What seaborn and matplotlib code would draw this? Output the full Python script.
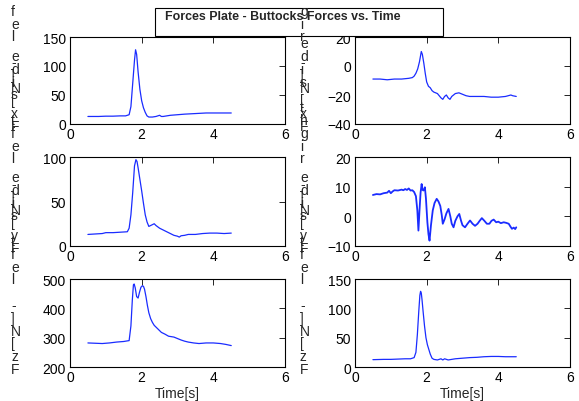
import matplotlib
matplotlib.use("Agg")
import matplotlib.pyplot as plt
from matplotlib.patches import Rectangle
import seaborn as sns
import pandas as pd

# ---------------- data ----------------
t_fx_left = [0.5, 0.8, 1.0, 1.2, 1.4, 1.55, 1.65, 1.7, 1.75, 1.8, 1.83, 1.86, 1.9, 1.95, 2.0, 2.05,
             2.1, 2.15, 2.2, 2.3, 2.4, 2.5, 2.55, 2.6, 2.7, 2.8, 3.0, 3.2, 3.5, 3.8, 4.0, 4.2, 4.5]
v_fx_left = [13, 13, 13.5, 13.5, 14, 14, 16, 30, 70, 110, 128, 120, 90, 60, 40, 28,
             20, 14, 12, 12, 13, 15, 13, 13, 14, 15, 16, 17, 18, 19, 19, 19, 19]

t_fx_right = [0.5, 0.7, 0.9, 1.1, 1.3, 1.5, 1.6, 1.65, 1.7, 1.75, 1.8, 1.85, 1.88, 1.92, 1.96, 2.0,
              2.05, 2.1, 2.15, 2.2, 2.3, 2.4, 2.45, 2.5, 2.55, 2.6, 2.65, 2.7, 2.8, 2.9, 3.0, 3.1,
              3.2, 3.4, 3.6, 3.8, 4.0, 4.2, 4.35, 4.4, 4.5]
v_fx_right = [-9, -9, -9.5, -9, -9, -8.5, -8, -7, -5, -2, 3, 10, 8, 2, -5, -11,
              -14, -15, -17, -18, -19, -22, -23, -21, -20, -22, -23, -21, -19, -18.5, -19.5, -20.5,
              -21, -21, -21, -21.5, -21.5, -21, -20, -20.5, -21]

t_fy_left = [0.5, 0.7, 0.9, 1.0, 1.2, 1.4, 1.6, 1.65, 1.7, 1.75, 1.8, 1.84, 1.87, 1.9, 1.95, 2.0,
             2.05, 2.1, 2.15, 2.2, 2.25, 2.3, 2.35, 2.4, 2.5, 2.6, 2.7, 2.8, 2.9, 3.0, 3.05, 3.1,
             3.2, 3.3, 3.5, 3.7, 3.9, 4.1, 4.3, 4.5]
v_fy_left = [13, 13.5, 14, 15, 15, 15.5, 16, 20, 35, 60, 90, 97, 95, 88, 75, 62,
             48, 35, 27, 22, 23, 24, 25, 23, 20, 18, 16, 14, 12, 11, 10, 11.5,
             12, 13, 13, 14, 14.5, 14.5, 14, 14.5]

t_fy_right = [0.5, 0.6, 0.7, 0.8, 0.9, 0.95, 1.0, 1.05, 1.1, 1.2, 1.3, 1.35, 1.4, 1.45, 1.5, 1.55,
              1.6, 1.65, 1.7, 1.74, 1.77, 1.8, 1.83, 1.86, 1.88, 1.91, 1.95, 1.98, 2.02, 2.05, 2.08,
              2.12, 2.17, 2.22, 2.28, 2.33, 2.38, 2.42, 2.45, 2.5, 2.55, 2.61, 2.66, 2.7, 2.75, 2.8,
              2.86, 2.91, 2.96, 3.0, 3.07, 3.14, 3.21, 3.28, 3.35, 3.42, 3.48, 3.54, 3.61, 3.68,
              3.75, 3.81, 3.87, 3.94, 4.0, 4.07, 4.15, 4.22, 4.29, 4.34, 4.38, 4.43, 4.47, 4.5]
v_fy_right = [7.2, 7.5, 7.4, 7.8, 8.0, 8.6, 7.8, 8.4, 8.8, 8.7, 9.0, 8.8, 9.2, 8.9, 9.4, 8.7,
              8.8, 8.2, 6.8, 2, -4.8, 2, 8, 10.9, 9, 8.7, 9.8, 6, -2, -6, -8.2,
              -3, 2, 4.5, 5.9, 5, 3.5, 0.5, -2.5, -1, 1, 2.5, 0, -2.5, -3.7, -1.5,
              0, 0.8, -1.5, -3, -3.7, -2.5, -1.4, -2.5, -3.2, -2.5, -1.5, -0.6, -1.5, -2.5,
              -2.5, -1.5, -1.1, -2, -1.8, -2.3, -2, -2.2, -2.5, -3.5, -4.2, -3.8, -4.3, -3.7]

t_fz_left = [0.5, 0.7, 0.9, 1.1, 1.3, 1.5, 1.65, 1.7, 1.74, 1.77, 1.79, 1.82, 1.86, 1.9, 1.94, 1.98,
             2.02, 2.05, 2.08, 2.12, 2.16, 2.2, 2.25, 2.3, 2.35, 2.45, 2.55, 2.65, 2.75, 2.9, 3.0,
             3.1, 3.2, 3.3, 3.45, 3.6, 3.8, 4.0, 4.2, 4.35, 4.5]
v_fz_left = [282, 281, 280, 282, 285, 287, 290, 340, 430, 480, 483, 470, 440, 435, 455, 472,
             477, 475, 465, 440, 410, 385, 365, 352, 342, 330, 318, 312, 305, 302, 297,
             292, 288, 285, 282, 280, 282, 282, 280, 277, 273]

t_fz_right = [0.5, 0.8, 1.0, 1.2, 1.4, 1.55, 1.65, 1.7, 1.74, 1.78, 1.81, 1.83, 1.85, 1.87, 1.9, 1.94,
              1.98, 2.02, 2.06, 2.1, 2.15, 2.2, 2.3, 2.4, 2.45, 2.5, 2.55, 2.6, 2.7, 2.8, 3.0, 3.2,
              3.4, 3.6, 3.8, 4.0, 4.2, 4.5]
v_fz_right = [12.5, 13, 13, 13.5, 14, 14, 16, 25, 55, 95, 122, 129, 126, 115, 95, 70,
              50, 38, 30, 22, 15, 13, 12, 14, 12, 14, 13, 12, 13, 14, 15, 16,
              16.5, 17.5, 18, 18, 17.5, 17.5]

series_t = [t_fx_left, t_fx_right, t_fy_left, t_fy_right, t_fz_left, t_fz_right]
series_v = [v_fx_left, v_fx_right, v_fy_left, v_fy_right, v_fz_left, v_fz_right]

y_ticks = [[0, 50, 100, 150], [-40, -20, 0, 20],
           [0, 50, 100], [-10, 0, 10, 20],
           [200, 300, 400, 500], [0, 50, 100, 150]]
x_ticks = [0, 2, 4, 6]

y_labels = ["Fx[N]- left side", "Fx[N]- right side",
            "Fy[N]- left side", "Fy[N]- right side",
            "Fz[N]- left side", "Fz[N]- left side"]
title_text = "Forces Plate - Buttocks Forces vs. Time"
x_label = "Time[s]"

# ---------------- style ----------------
sns.set_theme(style="white")
plt.rcParams['font.family'] = ['Liberation Sans', 'DejaVu Sans']
plt.rcParams['axes.edgecolor'] = 'black'
plt.rcParams['axes.linewidth'] = 0.8

W, H = 579, 402
fig = plt.figure(figsize=(W / 100, H / 100), dpi=100)
fig.patch.set_facecolor('white')

col_x = [70, 355]
col_w = 215
row_top = [38, 158, 280]
row_bot = [125, 247, 368]
line_w = [0.9, 0.9, 0.9, 1.3, 0.9, 0.9]

for i in range(6):
    r, c = divmod(i, 2)
    left = col_x[c] / W
    bottom = 1 - row_bot[r] / H
    height = (row_bot[r] - row_top[r]) / H
    ax = fig.add_axes([left, bottom, col_w / W, height])
    df = pd.DataFrame({"t": series_t[i], "v": series_v[i]})
    sns.lineplot(data=df, x="t", y="v", ax=ax, color="#1a2cff", linewidth=line_w[i],
                 estimator=None, sort=False)
    ax.set_xlim(0, 6)
    ax.set_ylim(y_ticks[i][0], y_ticks[i][-1])
    ax.set_xticks(x_ticks)
    ax.set_yticks(y_ticks[i])
    ax.tick_params(direction='in', length=4, width=0.6, top=True, right=True,
                   labelsize=10, colors='black', pad=3)
    ax.tick_params(axis='x', pad=2.5)
    for s in ax.spines.values():
        s.set_color('black')
        s.set_linewidth(0.8)
    ax.set_ylabel("")
    if r == 2:
        ax.set_xlabel(x_label, fontsize=10, labelpad=1)
    else:
        ax.set_xlabel("")

# title box
fig.patches.append(Rectangle((155 / W, 1 - 37 / H), (443 - 155) / W, (37 - 9) / H,
                             transform=fig.transFigure, facecolor='white',
                             edgecolor='black', linewidth=0.8, zorder=1))
fig.text(165 / W, 1 - 17 / H, title_text, fontsize=8.9, fontweight='bold',
         ha='left', va='center', zorder=3)

# garbled stacked y labels (characters stacked upward, as in the reference)
label_x = [11, 300]
for i, lab in enumerate(y_labels):
    r, c = divmod(i, 2)
    y0 = row_bot[r] + 2
    step = 12.8
    for k, ch in enumerate(lab):
        if ch == ' ':
            continue
        ypx = y0 - k * step
        if ypx < 6:
            continue
        fig.text(label_x[c] / W, 1 - ypx / H, ch, fontsize=10, ha='left',
                 va='center', zorder=4)

fig.savefig("out.png", dpi=100, facecolor='white')
